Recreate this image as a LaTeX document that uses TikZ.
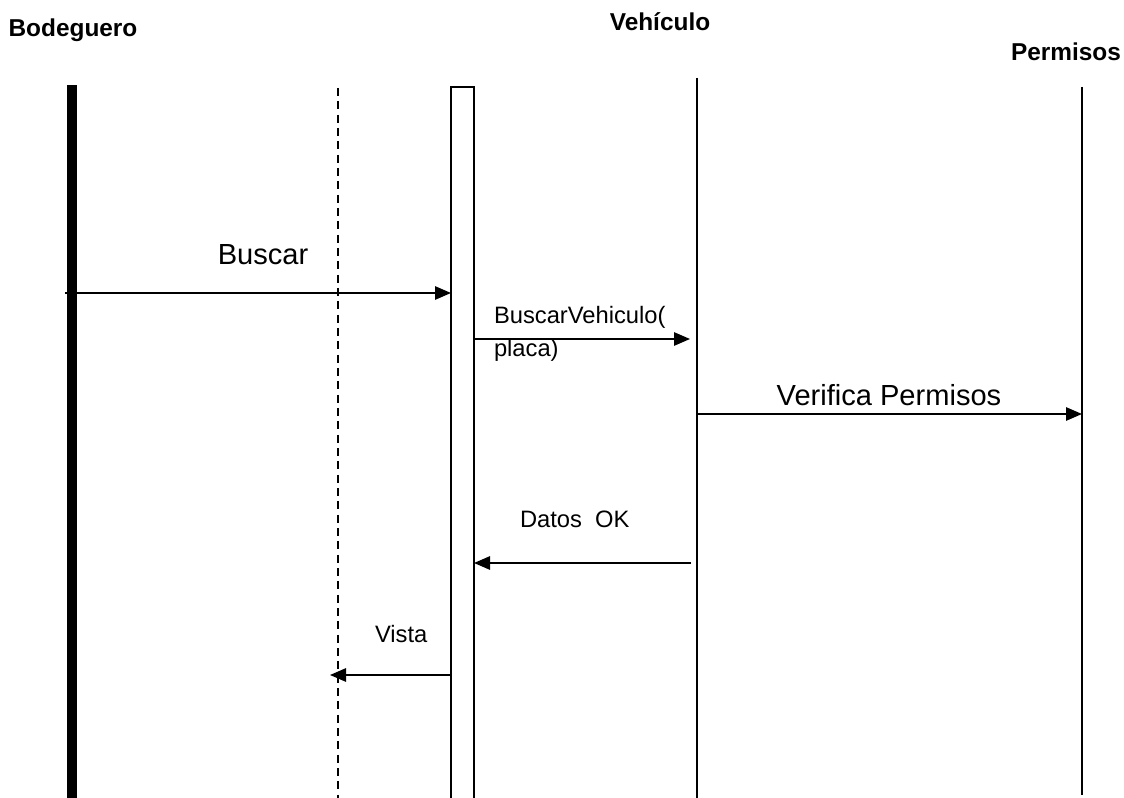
\documentclass[tikz,border=0pt]{standalone}
\usepackage{fontspec}
\setmainfont{Liberation Sans}
\usetikzlibrary{arrows.meta,positioning}

\begin{document}
\begin{tikzpicture}[
    x=0.75pt, y=-0.75pt,
    every node/.style={inner sep=0pt, outer sep=0pt},
    header/.style={font=\fontsize{18.3}{22}\selectfont\bfseries, anchor=base},
    biglabel/.style={font=\fontsize{21.8}{26}\selectfont, anchor=base},
    smalllabel/.style={font=\fontsize{17.8}{21}\selectfont, anchor=base west, align=left},
    lifeline/.style={draw, line width=1.3pt},
    msg/.style={draw, line width=1.4pt, -{Triangle[length=12pt, width=10pt]}},
]
\useasboundingbox (0,0) rectangle (1124,798);

% actors
\node[header] (bodeguero) at (73,37) {Bodeguero};
\node[header] (vehiculo) at (660,31) {Vehículo};
\node[header] (permisos) at (1066,61) {Permisos};

% lifelines
\fill (67,85) rectangle (77,798);
\draw[lifeline, dashed, dash pattern=on 6pt off 4pt] (338,88) coordinate (ui top) -- (338,798) coordinate (ui bot);
\draw[lifeline] (451,798) coordinate (act bl) |- (474,87) coordinate (act tr) -- (474,798) coordinate (act br);
\draw[lifeline] (697,78) coordinate (veh top) -- (697,798) coordinate (veh bot);
\draw[lifeline] (1082,87) coordinate (perm top) -- (1082,795) coordinate (perm bot);

% message endpoints
\coordinate (buscar s) at (65,293);
\coordinate (buscar e) at (451,293);
\coordinate (bv s) at (474,339);
\coordinate (bv e) at (690,339);
\coordinate (vp s) at (697,414);
\coordinate (vp e) at (1082,414);
\coordinate (ok s) at (691,563);
\coordinate (ok e) at (474,563);
\coordinate (vista s) at (451,675);
\coordinate (vista e) at (330,675);

% messages
\draw[msg] (buscar s) -- (buscar e);
\draw[msg] (bv s) -- (bv e);
\draw[msg] (vp s) -- (vp e);
\draw[msg] (ok s) -- (ok e);
\draw[msg] (vista s) -- (vista e);

% labels
\node[biglabel] (buscar lbl) at (263,265) {Buscar};
\node[smalllabel] (bv lbl) at (494,357) {BuscarVehiculo(\\[4pt]placa)};
\node[biglabel] (vp lbl) at (889,406) {Verifica Permisos};
\node[smalllabel] (ok lbl) at (520,527) {Datos\ \ OK};
\node[smalllabel] (vista lbl) at (375,642) {Vista};
\end{tikzpicture}
\end{document}
